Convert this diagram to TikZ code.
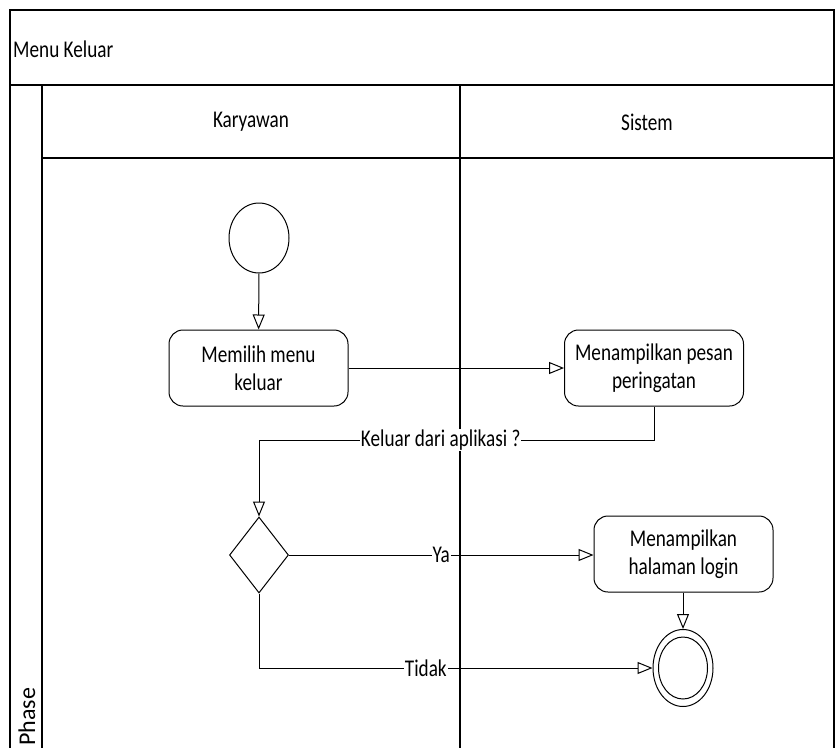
\documentclass[tikz,border=0pt]{standalone}
\usepackage{fontspec}
\setmainfont{Carlito}[FakeStretch=0.8]
\newfontfamily\plainfont{Carlito}
\usetikzlibrary{shapes.geometric,arrows.meta}
\begin{document}
\begin{tikzpicture}[x=1pt,y=-1pt,
  every node/.style={font=\fontsize{24}{28}\selectfont},
  frame/.style={line width=1.1pt},
  act/.style={draw,line width=1pt,rounded corners=14pt,minimum width=179pt,minimum height=76pt,align=center,inner sep=0pt},
  flow/.style={line width=1pt,-{Triangle[open,length=15pt,width=12pt]}},
  lbl/.style={fill=white,inner sep=1pt},
  ell/.style={draw,ellipse,line width=1pt,inner sep=0pt}]
\useasboundingbox (0,0) rectangle (835,747);
% frame
\draw[frame] (10,760) -- (10,10) -- (834,10) -- (834,760);
\draw[frame] (10,85) -- (834,85);
\draw[frame] (42,760) -- (42,85);
\draw[frame] (42,158) -- (834,158);
\draw[frame] (460,85) -- (460,760);
\node[anchor=west,inner sep=0pt] (title) at (13,49) {Menu Keluar};
\node (h1) at (251,122) {Karyawan};
\node (h2) at (647,122) {Sistem};
\node[rotate=90,anchor=west,inner sep=0pt,font=\plainfont\fontsize{24}{28}\selectfont] (phase) at (27,746) {Phase};
% nodes
\node[ell,minimum width=60pt,minimum height=70pt] (start) at (259,238) {};
\node[act] (b1) at (258.5,368) {Memilih menu\\keluar};
\node[act] (b2) at (654,368) {Menampilkan pesan\\peringatan};
\node[draw,diamond,line width=1pt,inner sep=0pt,minimum width=59pt,minimum height=76pt,aspect=0.78] (dec) at (259,555) {};
\node[act] (b3) at (683.5,554) {Menampilkan\\halaman login};
\node[ell,minimum width=60pt,minimum height=77pt] (end) at (683,668) {};
\node[ell,minimum width=49pt,minimum height=62pt] (endin) at (683,668) {};
\coordinate (k1) at (259,440);
% connectors
\draw[flow] (start) -- (b1);
\draw[flow] (b1) -- (b2);
\draw[flow] (b2.south) |- (k1) node[lbl,pos=0.77] {Keluar dari aplikasi ?} -- (dec.north);
\draw[flow] (dec.east) -- node[lbl,pos=0.5] {Ya} (b3.west |- dec.east);
\draw[flow] (dec.south) |- node[lbl,pos=0.712] {Tidak} (end.west);
\draw[flow] (b3.south -| end.north) -- (end.north);
\end{tikzpicture}
\end{document}
